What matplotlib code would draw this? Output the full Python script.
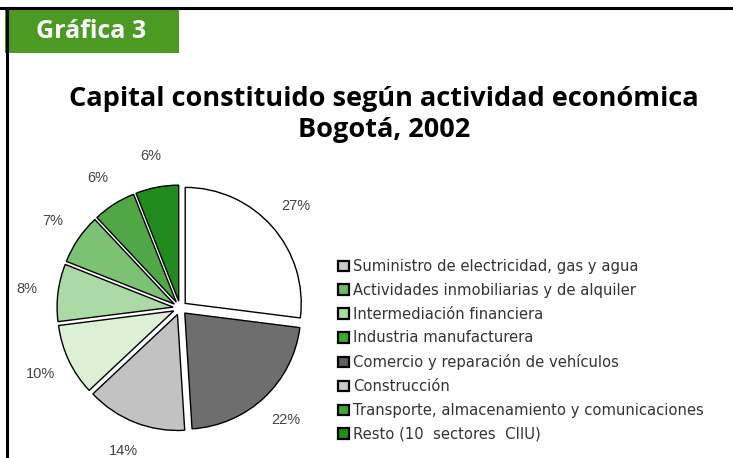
import matplotlib
matplotlib.use('Agg')
import matplotlib.pyplot as plt
from matplotlib.patches import Patch, Rectangle
from matplotlib.lines import Line2D

# datos (porcentajes, en el orden de las porciones, sentido horario desde arriba)
shares = [27, 22, 14, 10, 8, 7, 6, 6]
slice_colors = ['#ffffff', '#6e6e6e', '#c2c2c2', '#dcf0d6', '#acdaa6',
                '#7cc274', '#4fa746', '#218c1d']

categories = ['Suministro de electricidad, gas y agua',
              'Actividades inmobiliarias y de alquiler',
              'Intermediación financiera',
              'Industria manufacturera',
              'Comercio y reparación de vehículos',
              'Construcción',
              'Transporte, almacenamiento y comunicaciones',
              'Resto (10  sectores  CIIU)']
legend_colors = ['#c8c8c8', '#6cbd62', '#a8dca0', '#3da935',
                 '#5e5e5e', '#c8c8c8', '#3da935', '#1f8f1b']

W, H = 733, 458
fig = plt.figure(figsize=(W / 100, H / 100), dpi=100)

# marco
fig.add_artist(Line2D([0, 1], [1 - 8 / H, 1 - 8 / H], color='black', lw=2.2))
fig.add_artist(Line2D([7 / W, 7 / W], [0, 1 - 8 / H], color='black', lw=2.2))
fig.add_artist(Rectangle((5 / W, 1 - 53 / H), 174 / W, 45 / H,
                         facecolor='#4b9a22', edgecolor='none'))
fig.text(91 / W, 1 - 31 / H, 'Gráfica 3', color='white', fontsize=18,
         fontweight='bold', family='Open Sans', ha='center', va='center')

fig.text(384 / W, 1 - 99 / H, 'Capital constituido según actividad económica',
         fontsize=19.5, fontweight='bold', family='Open Sans', ha='center', va='center')
fig.text(384 / W, 1 - 130 / H, 'Bogotá, 2002',
         fontsize=19.5, fontweight='bold', family='Open Sans', ha='center', va='center')

# torta
cx, cy, r = 180, 308, 116
ax = fig.add_axes([(cx - 1.25 * r) / W, 1 - (cy + 1.25 * r) / H,
                   2.5 * r / W, 2.5 * r / H])
wedges, texts, autotexts = ax.pie(
    shares, colors=slice_colors, startangle=90, counterclock=False,
    explode=[0.06] * len(shares), autopct='%d%%', pctdistance=1.27,
    wedgeprops=dict(edgecolor='black', linewidth=1.0),
    textprops=dict(fontsize=10.5, color='#444444', family='Liberation Sans'))
ax.set_xlim(-1.25, 1.25)
ax.set_ylim(-1.25, 1.25)

handles = [Patch(facecolor=c, edgecolor='black', linewidth=1.6) for c in legend_colors]
fig.legend(handles, categories, loc='upper left',
           bbox_to_anchor=(338 / W, 1 - 259 / H), frameon=False,
           labelspacing=0.6, handlelength=0.72, handleheight=0.72,
           handletextpad=0.3, borderpad=0, borderaxespad=0,
           labelcolor='#333333', prop=dict(family='DejaVu Sans', size=10.6))

fig.savefig('out.png', dpi=100)
